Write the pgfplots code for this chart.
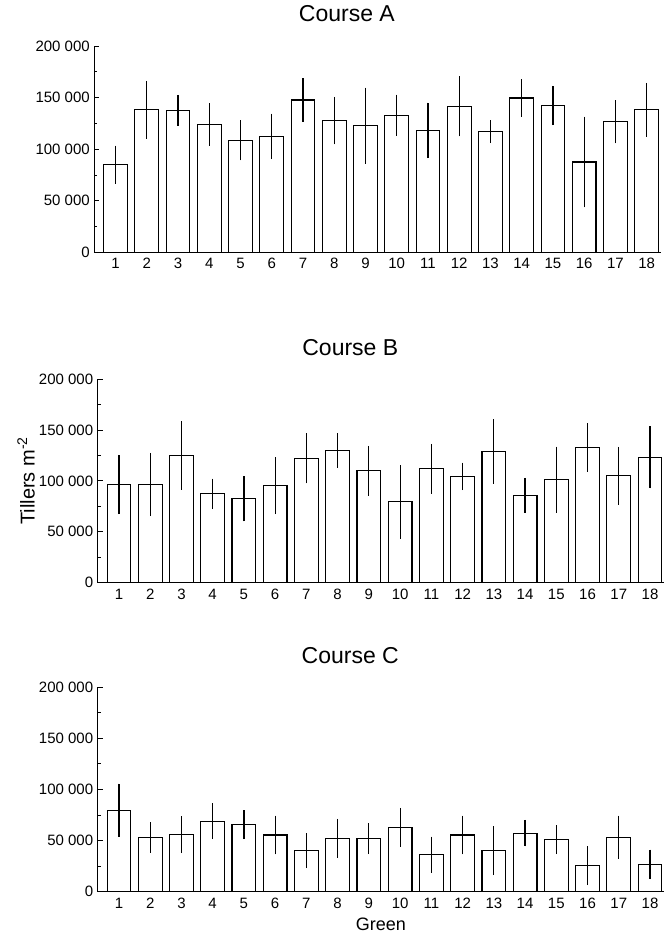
\documentclass[border=0pt]{standalone}
\usepackage{pgfplots}
\pgfplotsset{compat=1.18}
\usepackage{pgfplotstable}
\usepackage{fontspec}
\setmainfont{Liberation Sans}

\pgfplotstableread{
x y e
1 85000 18500
2 138300 28000
3 137600 15000
4 124000 20500
5 108600 19500
6 112400 22000
7 147600 21000
8 127600 23000
9 122700 37000
10 132800 20000
11 118200 27000
12 141500 29000
13 116900 11000
14 149600 18000
15 142400 19000
16 87500 44000
17 126600 21000
18 138200 26000
}\dataA

\pgfplotstableread{
x y e
1 96400 29000
2 96400 31000
3 124900 33500
4 87200 15000
5 82300 22000
6 95400 28000
7 122000 24500
8 129800 17000
9 109800 24500
10 79400 36000
11 111800 24500
12 104300 13500
13 128900 31500
14 85900 17000
15 101000 32500
16 132800 24000
17 104900 28500
18 123000 30500
}\dataB

\pgfplotstableread{
x y e
1 79500 26000
2 53100 15000
3 55700 18000
4 69000 17500
5 65500 14000
6 55400 19000
7 40100 17000
8 52100 19000
9 51800 15000
10 62900 19000
11 36200 17500
12 55400 19000
13 40100 24000
14 57300 13000
15 50800 14000
16 25400 19000
17 53400 21000
18 26700 14500
}\dataC

\pgfplotsset{
  panel/.style={
    scale only axis,
    width=566.4pt,
    anchor=south west,
    ybar,
    bar width=0.76,
    xmin=0.32, xmax=18.45,
    ymin=0, ymax=200000,
    scaled y ticks=false,
    axis x line*=bottom,
    axis y line*=left,
    axis line style={line width=0.9pt},
    xtick={1,...,18},
    xticklabels={1,2,3,4,5,6,7,8,9,10,11,12,13,14,15,16,17,18},
    xtick style={draw=none},
    ytick={0,50000,100000,150000,200000},
    yticklabels={0,50 000,100 000,150 000,200 000},
    minor y tick num=1,
    tick align=inside,
    major tick length=5pt,
    minor tick length=3pt,
    ytick style={line width=0.8pt, black},
    ticklabel style={font=\fontsize{15}{15}\selectfont},
    yticklabel style={xshift=-1pt},
    xticklabel style={text height=11pt, text depth=0pt, yshift=-2pt},
    title style={at={(0.446,1)}, anchor=base, yshift=18pt, font=\fontsize{23}{23}\selectfont},
    clip=false,
  },
  barplot/.style={
    draw=black, fill=white, line width=1.1pt,
    error bars/.cd, y dir=both, y explicit, error mark=none,
    error bar style={line width=1.2pt, black},
  },
}

\begin{document}
\begin{tikzpicture}
\useasboundingbox (0pt,0pt) rectangle (663pt,-933pt);

\begin{axis}[panel, at={(94.3pt,-252.3pt)}, height=206.3pt, title={Course A}]
\addplot[barplot] table[x=x, y=y, y error=e] {\dataA};
\end{axis}

\begin{axis}[panel, at={(97.7pt,-582.7pt)}, height=203.7pt, title={Course B},
  ylabel={Tillers m\textsuperscript{-2}},
  ylabel style={at={(axis description cs:-0.1266,0.5)}, anchor=center, font=\fontsize{20}{20}\selectfont}]
\addplot[barplot] table[x=x, y=y, y error=e] {\dataB};
\end{axis}

\begin{axis}[panel, at={(97.7pt,-891.7pt)}, height=204.7pt, title={Course C},
  xlabel={Green},
  xlabel style={at={(axis description cs:0.5,0)}, anchor=base, yshift=-39pt, font=\fontsize{18}{18}\selectfont}]
\addplot[barplot] table[x=x, y=y, y error=e] {\dataC};
\end{axis}
\end{tikzpicture}
\end{document}
